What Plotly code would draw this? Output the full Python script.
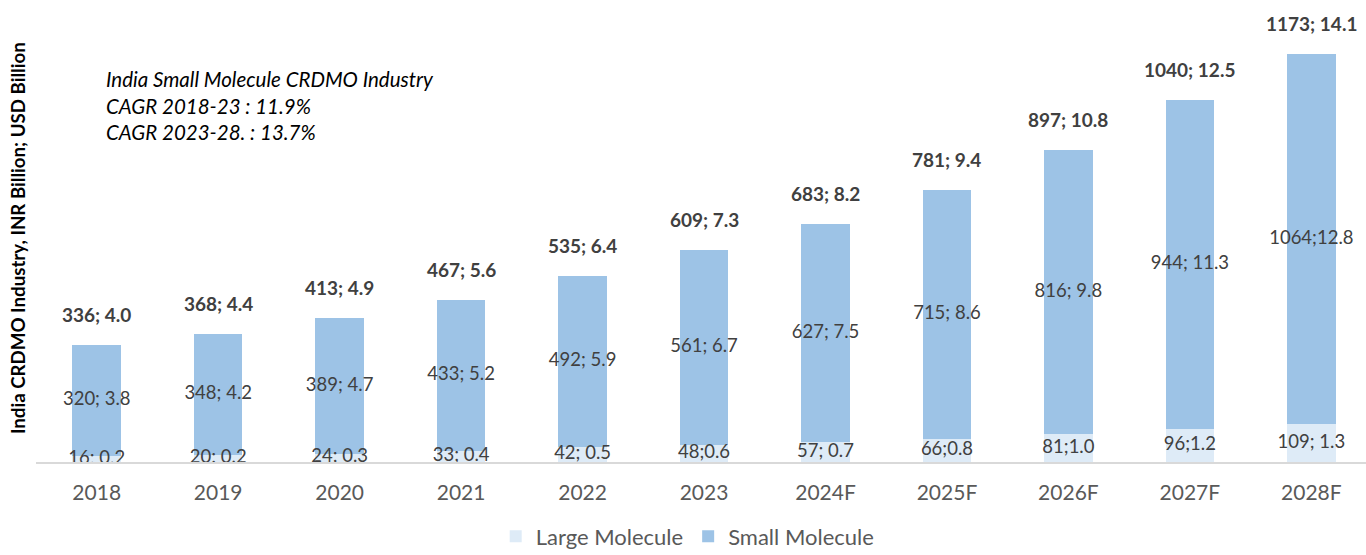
import plotly.graph_objects as go

# data
years = ["2018", "2019", "2020", "2021", "2022", "2023",
         "2024F", "2025F", "2026F", "2027F", "2028F"]
large_inr = [16, 20, 24, 33, 42, 48, 57, 66, 81, 96, 109]
small_inr = [320, 348, 389, 433, 492, 561, 627, 715, 816, 944, 1064]
total_inr = [336, 368, 413, 467, 535, 609, 683, 781, 897, 1040, 1173]
large_labels = ["16; 0.2", "20; 0.2", "24; 0.3", "33; 0.4", "42; 0.5", "48;0.6",
                "57; 0.7", "66;0.8", "81;1.0", "96;1.2", "109; 1.3"]
small_labels = ["320; 3.8", "348; 4.2", "389; 4.7", "433; 5.2", "492; 5.9", "561; 6.7",
                "627; 7.5", "715; 8.6", "816; 9.8", "944; 11.3", "1064;12.8"]
total_labels = ["336; 4.0", "368; 4.4", "413; 4.9", "467; 5.6", "535; 6.4", "609; 7.3",
                "683; 8.2", "781; 9.4", "897; 10.8", "1040; 12.5", "1173; 14.1"]

FONT = "Lato, 'Open Sans', sans-serif"
LABEL_COLOR = "#404040"
LARGE_COLOR = "#DEEBF7"
SMALL_COLOR = "#9DC3E6"

fig = go.Figure()

fig.add_trace(go.Bar(
    x=years, y=large_inr, name="Large Molecule",
    marker=dict(color=LARGE_COLOR, line=dict(width=0)),
    width=0.4, hoverinfo="skip"
))
fig.add_trace(go.Bar(
    x=years, y=small_inr, name="Small Molecule",
    marker=dict(color=SMALL_COLOR, line=dict(width=0)),
    width=0.4, hoverinfo="skip"
))

# segment labels, centred in each segment
fig.add_trace(go.Scatter(
    x=years, y=[v / 2 for v in large_inr], mode="text",
    text=large_labels, textposition="middle center",
    textfont=dict(family=FONT, size=18.5, color=LABEL_COLOR),
    showlegend=False, hoverinfo="skip"
))
fig.add_trace(go.Scatter(
    x=years, y=[l + s / 2 for l, s in zip(large_inr, small_inr)], mode="text",
    text=small_labels, textposition="middle center",
    textfont=dict(family=FONT, size=18.5, color=LABEL_COLOR),
    showlegend=False, hoverinfo="skip"
))

# bold totals above bars (x given as category index)
for i, (tot, lab) in enumerate(zip(total_inr, total_labels)):
    fig.add_annotation(
        x=i, y=tot, text=f"<b>{lab}</b>", showarrow=False,
        yanchor="bottom", yshift=17,
        font=dict(family=FONT, size=19, color=LABEL_COLOR)
    )

# CAGR note
fig.add_annotation(
    xref="paper", yref="paper", x=0.0515, y=0.781, xanchor="left", yanchor="middle",
    align="left", showarrow=False,
    text="<i>India Small Molecule CRDMO Industry<br>CAGR 2018-23 : 11.9%<br>CAGR 2023-28. : 13.7%</i>",
    font=dict(family=FONT, size=20.5, color="#000000")
)

# y-axis title
fig.add_annotation(
    xref="paper", yref="paper", x=-0.0135, y=0.49, textangle=-90,
    showarrow=False, xanchor="center", yanchor="middle",
    text="<b>India CRDMO Industry, INR Billion; USD Billion</b>",
    font=dict(family=FONT, size=18.7, color="#000000")
)

fig.update_layout(
    barmode="stack",
    width=1366, height=555,
    margin=dict(l=36, r=0, t=5, b=93, autoexpand=False),
    paper_bgcolor="white", plot_bgcolor="white",
    font=dict(family=FONT, color=LABEL_COLOR),
    showlegend=True,
    legend=dict(
        orientation="h", x=0.49, y=-0.163, xanchor="center", yanchor="middle",
        font=dict(family=FONT, size=22, color="#595959"),
        traceorder="normal"
    ),
    xaxis=dict(
        type="category",
        showgrid=False, showline=True, linecolor="#D9D9D9", linewidth=2,
        ticks="", tickfont=dict(family=FONT, size=21, color="#595959"),
        ticklabelstandoff=11, range=[-0.5, 10.45]
    ),
    yaxis=dict(
        showgrid=False, showticklabels=False, zeroline=False,
        range=[0, 1314]
    ),
)

# drop the default page margin so the figure sits at the window's corner
fig.write_html("out.html", config={"displayModeBar": False},
               post_script="document.body.style.margin='0px';")
